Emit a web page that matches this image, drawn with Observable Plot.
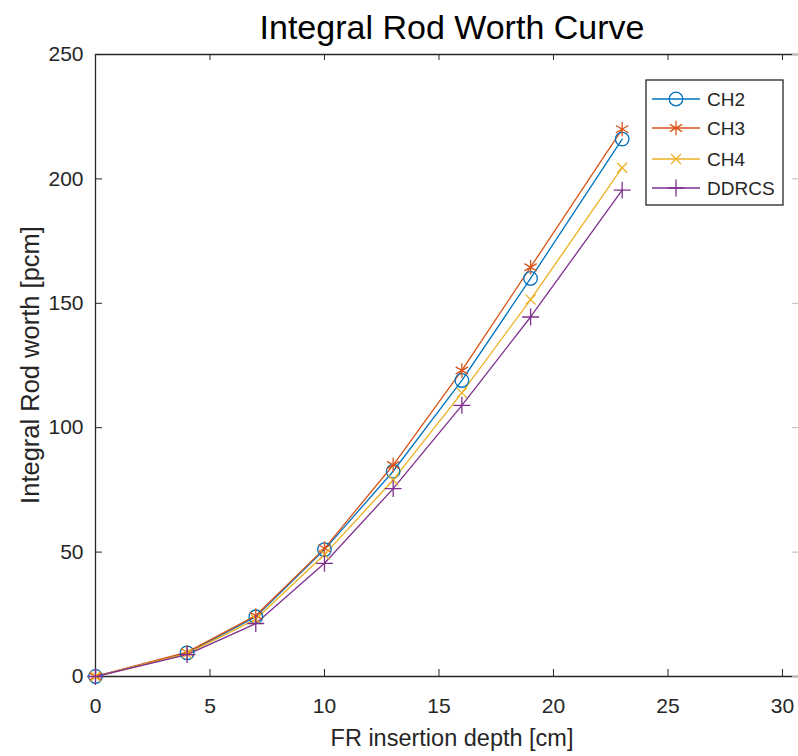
<!DOCTYPE html>
<html>
<head>
<meta charset="utf-8">
<script src="https://cdn.jsdelivr.net/npm/d3@7"></script>
<script src="https://cdn.jsdelivr.net/npm/@observablehq/plot@0.6"></script>
<style>
  html, body { margin: 0; padding: 0; background: #fff; }
  #chart svg { display: block; }
</style>
</head>
<body>
<div id="chart"></div>
<script>
const depth = [0, 4, 7, 10, 13, 16, 19, 23];
const ch2 = [0, 9.5, 24, 51, 82.5, 119, 160, 216];
const ch3 = [0, 9.8, 24.5, 51.5, 85, 123, 164.5, 220];
const ch4 = [0, 9.2, 23, 49, 79, 114, 151.5, 204.5];
const ddrcs = [0, 8.8, 21.3, 45.5, 75.5, 109, 144.5, 195.5];
const seriesNames = ["CH2", "CH3", "CH4", "DDRCS"];
const seriesColors = ["#0072BD", "#D95319", "#EDB120", "#7E2F8E"];
const seriesSymbols = ["circle", "asterisk", "times", "plus"];
const xTicks = [0, 5, 10, 15, 20, 25, 30];
const yTicks = [0, 50, 100, 150, 200, 250];
const titleText = "Integral Rod Worth Curve";
const xLabel = "FR insertion depth [cm]";
const yLabel = "Integral Rod worth [pcm]";

const allSeries = [ch2, ch3, ch4, ddrcs];
const data = [];
allSeries.forEach((vals, si) => {
  vals.forEach((v, i) => data.push({series: seriesNames[si], x: depth[i], y: v}));
});

const axisColor = "#262626";
const font = "'Liberation Sans', Arial, Helvetica, sans-serif";
const symbolR = {circle: 6.8, asterisk: 6.8, times: 4.6, plus: 5.5};

const dotMarks = seriesNames.map((name, i) =>
  Plot.dot(data.filter(d => d.series === name), {
    x: "x", y: "y", stroke: "series", symbol: "series",
    r: symbolR[seriesSymbols[i]], strokeWidth: 1.3, fill: "none"
  })
);

const plot = Plot.plot({
  width: 798,
  height: 756,
  marginLeft: 95,
  marginRight: 0,
  marginTop: 54,
  marginBottom: 80,
  style: {fontFamily: font, fontSize: "21px", color: axisColor, background: "#fff"},
  x: {domain: [0, 30.7], ticks: xTicks},
  y: {domain: [0, 250], ticks: yTicks},
  color: {domain: seriesNames, range: seriesColors},
  symbol: {domain: seriesNames, range: seriesSymbols},
  marks: [
    Plot.ruleY([0], {stroke: axisColor, strokeWidth: 1.3}),
    Plot.ruleY([250], {stroke: axisColor, strokeWidth: 1.3}),
    Plot.ruleX([0], {stroke: axisColor, strokeWidth: 1.3}),
    Plot.axisX({anchor: "bottom", ticks: xTicks, tickSize: -7, tickPadding: 29, label: null, stroke: axisColor, fill: axisColor, fontSize: 21}),
    Plot.axisX({anchor: "top", ticks: xTicks, tickSize: -5, tickFormat: () => "", label: null, stroke: axisColor}),
    Plot.axisY({anchor: "left", ticks: yTicks, tickSize: -7, tickPadding: 19, label: null, stroke: axisColor, fill: axisColor, fontSize: 21}),
    Plot.axisY({anchor: "right", ticks: yTicks, tickSize: -7, tickFormat: () => "", label: null, stroke: "#bbb"}),
    Plot.line(data, {x: "x", y: "y", z: "series", stroke: "series", strokeWidth: 1.3}),
    ...dotMarks,
    Plot.text([titleText], {frameAnchor: "top", dx: 5, dy: -26, fontSize: 34, fill: "#000", lineAnchor: "middle"}),
    Plot.text([xLabel], {frameAnchor: "bottom", dx: 5, dy: 62, fontSize: 23.5, fill: axisColor, lineAnchor: "middle"})
  ]
});

document.getElementById("chart").appendChild(plot);

const svg = d3.select(plot);

// Y axis label
svg.append("text")
  .attr("transform", "translate(30,365) rotate(-90)")
  .attr("text-anchor", "middle")
  .attr("dy", "0.35em")
  .attr("font-family", font)
  .attr("font-size", 25.5)
  .attr("fill", axisColor)
  .text(yLabel);

// Legend
const lg = svg.append("g").attr("font-family", font).attr("font-size", 19).attr("text-anchor", "start");
const bx = 646, by = 80, bw = 137, bh = 125;
lg.append("rect").attr("x", bx).attr("y", by).attr("width", bw).attr("height", bh)
  .attr("fill", "#fff").attr("stroke", axisColor).attr("stroke-width", 1.3);
const symMap = {circle: d3.symbolCircle, asterisk: d3.symbolAsterisk, times: d3.symbolTimes, plus: d3.symbolPlus};
const rowY = [99, 128, 159, 188];
seriesNames.forEach((name, i) => {
  const y = rowY[i];
  const r = symbolR[seriesSymbols[i]];
  lg.append("line").attr("x1", bx + 6).attr("x2", bx + 54).attr("y1", y).attr("y2", y)
    .attr("stroke", seriesColors[i]).attr("stroke-width", 1.3);
  lg.append("path").attr("d", d3.symbol(symMap[seriesSymbols[i]], Math.PI * r * r)())
    .attr("transform", `translate(${bx + 30},${y})`)
    .attr("fill", "none").attr("stroke", seriesColors[i]).attr("stroke-width", 1.3);
  lg.append("text").attr("x", bx + 61).attr("y", y).attr("dy", "0.35em")
    .attr("fill", axisColor).text(name);
});
</script>
</body>
</html>
